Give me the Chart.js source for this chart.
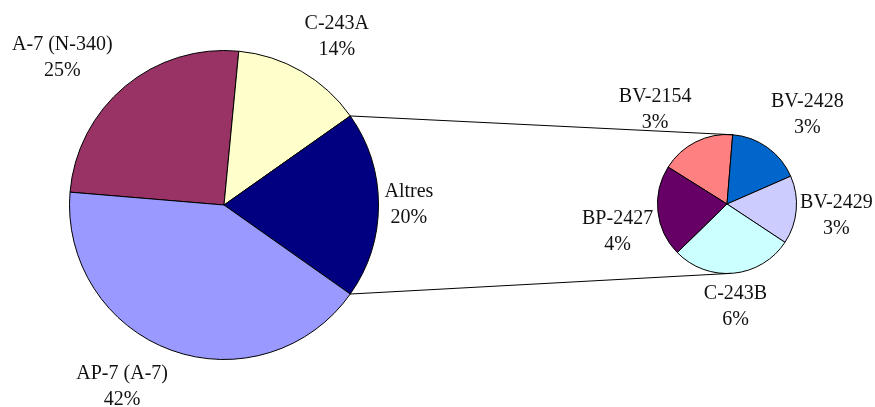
<!DOCTYPE html>
<html><head><meta charset="utf-8">
<script src="https://cdn.jsdelivr.net/npm/chart.js@4.4.1/dist/chart.umd.min.js"></script>
<style>
html,body{margin:0;padding:0;background:#fff;}
#wrap{position:relative;width:875px;height:407px;}
canvas{position:absolute;left:0;top:0;}
</style>
</head><body>
<div id="wrap"><canvas id="main" width="875" height="407"></canvas><canvas id="sub" width="875" height="407"></canvas></div>
<script>
// ---- data ----
const mainLabels = ['A-7 (N-340)', 'C-243A', 'Altres', 'AP-7 (A-7)'];
const mainValues = [25.2, 13.7, 19.55, 41.55];
const mainColors = ['#993366', '#FFFFCC', '#000080', '#9999FF'];

const subLabels = ['BV-2154', 'BV-2428', 'BV-2429', 'C-243B', 'BP-2427'];
const subValues = [3.4, 3.35, 3.1, 5.55, 4.15];
const subColors = ['#FF8080', '#0066CC', '#CCCCFF', '#CCFFFF', '#660066'];

// ---- layout / style ----
const TOTAL = mainValues.reduce((a, b) => a + b, 0);
const deg = v => v / TOTAL * 360;
const mainRotation = 90 - deg(mainValues[2]) / 2 - deg(mainValues[1]) - deg(mainValues[0]);
const subRotation = -57.9;
const FONT = '20px "Liberation Serif", "Times New Roman", serif';
const GAP = 10, HALF_H = 20, LINE = 13;
const mainNudges = [[-24, -6], [14, -9], [-4, 0], [-30, 8]];
const subNudges = [[-20, -5], [13, -8], [-6, 3], [-2, 3.5], [5, 17]];

function labelPlugin(id, nudges) {
  return {
    id,
    afterDatasetsDraw(chart) {
      const ctx = chart.ctx;
      const meta = chart.getDatasetMeta(0);
      const data = chart.data.datasets[0].data;
      ctx.save();
      ctx.font = FONT;
      ctx.fillStyle = '#111';
      ctx.textAlign = 'center';
      ctx.textBaseline = 'middle';
      meta.data.forEach((arc, i) => {
        const mid = (arc.startAngle + arc.endAngle) / 2;
        const ux = Math.cos(mid), uy = Math.sin(mid);
        const name = chart.data.labels[i];
        const pct = Math.round(data[i] / TOTAL * 100) + '%';
        const halfW = Math.max(ctx.measureText(name).width, ctx.measureText(pct).width) / 2;
        const d = arc.outerRadius + GAP;
        const cx = arc.x + d * ux + halfW * ux + nudges[i][0];
        const cy = arc.y + d * uy + HALF_H * uy + nudges[i][1];
        ctx.fillText(name, cx, cy - LINE);
        ctx.fillText(pct, cx, cy + LINE);
      });
      ctx.restore();
    }
  };
}

const common = {
  responsive: false,
  animation: false,
  events: [],
  plugins: { legend: { display: false }, tooltip: { enabled: false } }
};

const mainChart = new Chart(document.getElementById('main'), {
  type: 'pie',
  data: {
    labels: mainLabels,
    datasets: [{ data: mainValues, backgroundColor: mainColors, borderColor: '#000', borderWidth: 1 }]
  },
  options: Object.assign({}, common, {
    rotation: mainRotation,
    layout: { padding: { left: 69, top: 50, right: 496, bottom: 47 } }
  }),
  plugins: [labelPlugin('mainLabels', mainNudges)]
});

const connectorPlugin = {
  id: 'connectors',
  afterDatasetsDraw(chart) {
    const ctx = chart.ctx;
    const m = mainChart.getDatasetMeta(0).data[2];
    const s = chart.getDatasetMeta(0).data[0];
    const a1 = m.startAngle, a2 = m.endAngle;
    const b1 = (-90 + 5) * Math.PI / 180, b2 = (90 - 3) * Math.PI / 180;
    ctx.save();
    ctx.strokeStyle = '#000';
    ctx.lineWidth = 1;
    ctx.beginPath();
    ctx.moveTo(m.x + m.outerRadius * Math.cos(a1), m.y + m.outerRadius * Math.sin(a1));
    ctx.lineTo(s.x + s.outerRadius * Math.cos(b1), s.y + s.outerRadius * Math.sin(b1));
    ctx.moveTo(m.x + m.outerRadius * Math.cos(a2), m.y + m.outerRadius * Math.sin(a2));
    ctx.lineTo(s.x + s.outerRadius * Math.cos(b2), s.y + s.outerRadius * Math.sin(b2));
    ctx.stroke();
    ctx.restore();
  }
};

const subChart = new Chart(document.getElementById('sub'), {
  type: 'pie',
  data: {
    labels: subLabels,
    datasets: [{ data: subValues, backgroundColor: subColors, borderColor: '#000', borderWidth: 1 }]
  },
  options: Object.assign({}, common, {
    rotation: subRotation,
    layout: { padding: { left: 657, top: 134, right: 78, bottom: 133 } }
  }),
  plugins: [connectorPlugin, labelPlugin('subLabels', subNudges)]
});
</script>
</body></html>
